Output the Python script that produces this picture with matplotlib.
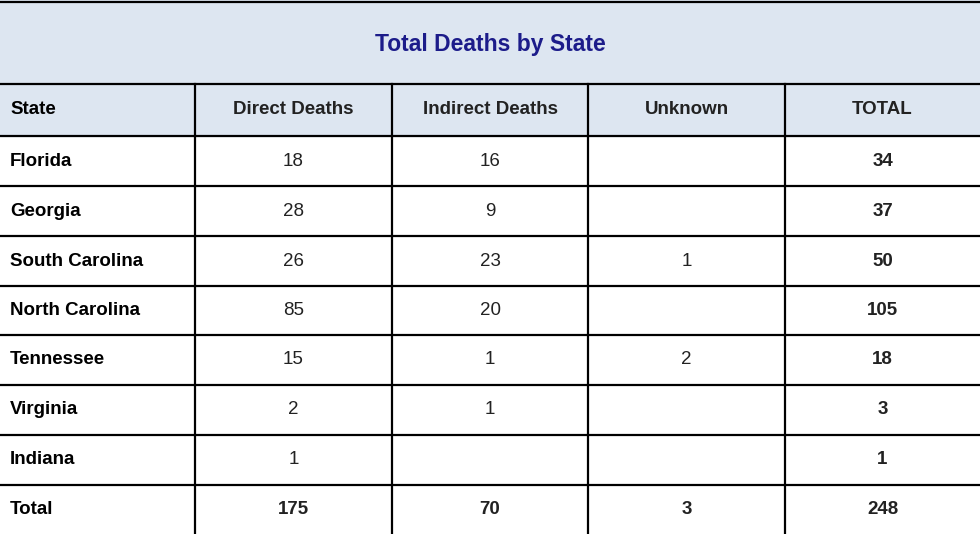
import matplotlib.pyplot as plt

title = "Total Deaths by State"
headers = ["State", "Direct Deaths", "Indirect Deaths", "Unknown", "TOTAL"]
states = ["Florida", "Georgia", "South Carolina", "North Carolina",
          "Tennessee", "Virginia", "Indiana"]
direct = [18, 28, 26, 85, 15, 2, 1]
indirect = [16, 9, 23, 20, 1, 1, None]
unknown = [None, None, 1, None, 2, None, None]
totals = [34, 37, 50, 105, 18, 3, 1]
grand = ["Total", 175, 70, 3, 248]

W, H = 980, 534
col_x = [0, 195, 392, 588, 785, 980]
row_y = [84, 136, 186, 236, 286, 335, 385, 435, 485, 534]
head_bg = "#dde6f1"

fig = plt.figure(figsize=(W / 100, H / 100), dpi=100)
ax = fig.add_axes([0, 0, 1, 1])
ax.set_xlim(0, W)
ax.set_ylim(H, 0)
ax.axis("off")

# title band and header background
ax.add_patch(plt.Rectangle((0, 0), W, row_y[1], color=head_bg, zorder=0))
ax.text(W / 2, 44, title, ha="center", va="center", fontsize=16.5,
        fontweight="bold", color="#1c1c8a", family="Liberation Sans")

# grid lines
lw = 1.6
ax.plot([0, W], [2, 2], color="black", lw=lw)
for y in row_y[:-1]:
    ax.plot([0, W], [y, y], color="black", lw=lw)
for x in col_x[1:-1]:
    ax.plot([x, x], [row_y[0], H], color="black", lw=lw)

font = dict(family="Liberation Sans", fontsize=13.5, va="center")


def cell(ci, ri, val, bold=False):
    if val is None:
        return
    yc = (row_y[ri] + row_y[ri + 1]) / 2
    if ci == 0:
        ax.text(10, yc, str(val), ha="left", fontweight="bold", **font)
    else:
        xc = (col_x[ci] + col_x[ci + 1]) / 2
        ax.text(xc, yc, str(val), ha="center",
                fontweight="bold" if bold else "normal", color="#222222", **font)


for ci, h in enumerate(headers):
    cell(ci, 0, h, bold=True)
for i, s in enumerate(states):
    cell(0, i + 1, s)
    cell(1, i + 1, direct[i])
    cell(2, i + 1, indirect[i])
    cell(3, i + 1, unknown[i])
    cell(4, i + 1, totals[i], bold=True)
for ci, v in enumerate(grand):
    cell(ci, len(states) + 1, v, bold=True)

fig.savefig("out.png", dpi=100)
